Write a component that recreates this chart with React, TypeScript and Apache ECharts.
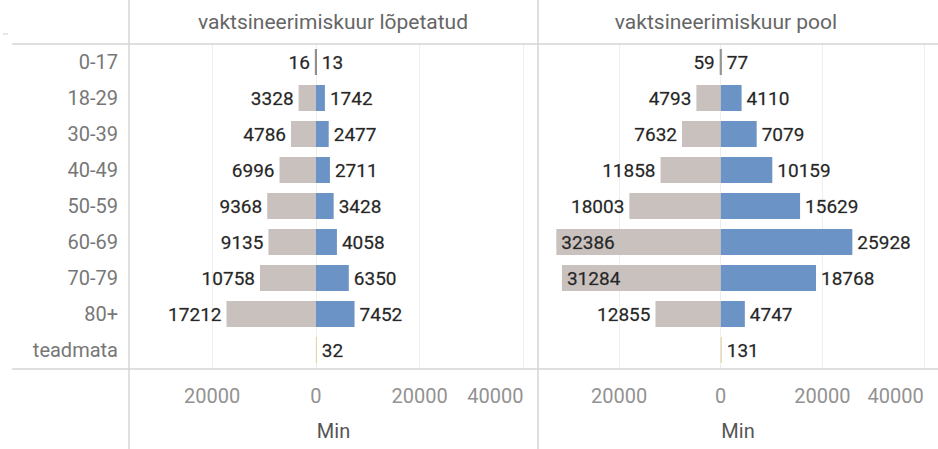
import React, { useEffect, useRef } from 'react';
import * as echarts from 'echarts';

const categories = ['0-17', '18-29', '30-39', '40-49', '50-59', '60-69', '70-79', '80+', 'teadmata'];
const completedGrey = [16, 3328, 4786, 6996, 9368, 9135, 10758, 17212, null];
const completedBlue = [13, 1742, 2477, 2711, 3428, 4058, 6350, 7452, 32];
const halfGrey = [59, 4793, 7632, 11858, 18003, 32386, 31284, 12855, null];
const halfBlue = [77, 4110, 7079, 10159, 15629, 25928, 18768, 4747, 131];
const panelTitles = ['vaktsineerimiskuur lõpetatud', 'vaktsineerimiskuur pool'];
const tickValues = [-20000, 0, 20000, 40000];
const axisName = 'Min';

const FONT = 'Roboto, "Noto Sans", sans-serif';
const GREY = '#c9c1be';
const BLUE = '#6b93c5';
const TINY = '#7f7f7f';
const UNKNOWN = '#e2cf9c';

function barColor(cat: string, v: number, base: string) {
  if (cat === 'teadmata') return UNKNOWN;
  if (v < 200) return TINY;
  return base;
}

function makeSeries(values: (number | null)[], sign: number, idx: number, base: string) {
  return {
    type: 'bar',
    xAxisIndex: idx,
    yAxisIndex: idx,
    stack: 'panel' + idx,
    barWidth: 26,
    barMinHeight: 1,
    data: values.map((v, i) => {
      if (v == null) return '-';
      const inside = sign < 0 && v > 30000;
      return {
        value: sign * v,
        itemStyle: { color: barColor(categories[i], v, base) },
        label: {
          show: true,
          position: sign < 0 ? (inside ? 'insideLeft' : 'left') : 'right',
          distance: 5,
          formatter: () => String(v),
          color: '#262626',
          fontSize: 19,
          fontWeight: 'normal',
          fontFamily: FONT,
          textBorderColor: 'rgba(38,38,38,0.5)',
          textBorderWidth: 0.4,
        },
      };
    }),
  };
}

export default function App() {
  const ref = useRef<HTMLDivElement>(null);
  useEffect(() => {
    if (!ref.current) return;
    const chart = echarts.init(ref.current, null, { renderer: 'svg' });
    const gridLefts = [129, 538];
    const xAxes = [0, 1].map((i) => ({
      type: 'value',
      gridIndex: i,
      min: -36000,
      max: 42800,
      axisLine: { show: false },
      axisTick: { show: false, customValues: tickValues },
      splitLine: { show: true, lineStyle: { color: '#eeeeee', width: 1 } },
      axisLabel: {
        customValues: tickValues,
        formatter: (v: number) => String(Math.abs(v)),
        color: '#929292',
        fontSize: 20,
        fontFamily: FONT,
        margin: 18,
        alignMaxLabel: 'right',
      },
      name: axisName,
      nameLocation: 'middle',
      nameGap: 53,
      nameTextStyle: { color: '#555', fontSize: 20, fontFamily: FONT },
    }));
    const yAxes = [0, 1].map((i) => ({
      type: 'category',
      gridIndex: i,
      inverse: true,
      data: categories,
      axisLine: { show: false },
      axisTick: { show: false },
      splitLine: { show: false },
      axisLabel: {
        show: i === 0,
        color: '#777',
        fontSize: 20,
        fontFamily: FONT,
        margin: 11,
      },
    }));
    const lineStyle = { stroke: '#d4d4d4', lineWidth: 1.5 };
    chart.setOption({
      animation: false,
      backgroundColor: '#ffffff',
      grid: gridLefts.map((l) => ({ left: l, width: 409, top: 44, height: 324 })),
      xAxis: xAxes,
      yAxis: yAxes,
      series: [
        makeSeries(completedGrey, -1, 0, GREY),
        makeSeries(completedBlue, 1, 0, BLUE),
        makeSeries(halfGrey, -1, 1, GREY),
        makeSeries(halfBlue, 1, 1, BLUE),
      ],
      graphic: [
        { type: 'line', shape: { x1: 12, y1: 44, x2: 938, y2: 44 }, style: lineStyle, z: 10 },
        { type: 'line', shape: { x1: 12, y1: 369, x2: 938, y2: 369 }, style: lineStyle, z: 10 },
        { type: 'line', shape: { x1: 129, y1: 0, x2: 129, y2: 449 }, style: lineStyle, z: 10 },
        { type: 'line', shape: { x1: 538, y1: 0, x2: 538, y2: 449 }, style: lineStyle, z: 10 },
        { type: 'line', shape: { x1: 3, y1: 34, x2: 8, y2: 34 }, style: { stroke: '#cccccc', lineWidth: 1 } },
        {
          type: 'text', x: 333, y: 22,
          style: { text: panelTitles[0], align: 'center', verticalAlign: 'middle', textAlign: 'center', textVerticalAlign: 'middle', fill: '#666', fontSize: 21, fontFamily: FONT },
        },
        {
          type: 'text', x: 726, y: 22,
          style: { text: panelTitles[1], align: 'center', verticalAlign: 'middle', textAlign: 'center', textVerticalAlign: 'middle', fill: '#666', fontSize: 21, fontFamily: FONT },
        },
      ],
    });
    return () => chart.dispose();
  }, []);
  return (
    <div
      ref={ref}
      style={{ position: 'fixed', left: 0, top: 0, width: 938, height: 449, overflow: 'hidden', background: '#fff' }}
    />
  );
}
